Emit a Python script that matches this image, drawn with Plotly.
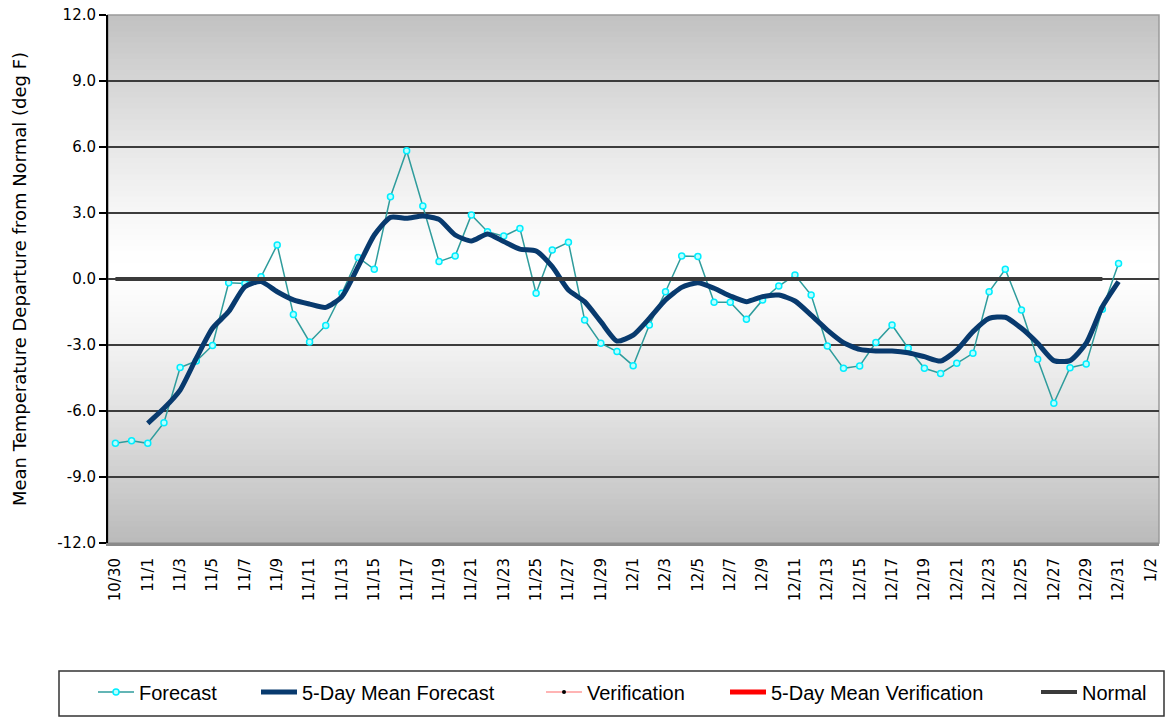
import pandas as pd
import plotly.graph_objects as go

# ---------------- data ----------------
start_date = "2007-10-30"
forecast = [-7.47, -7.35, -7.47, -6.53, -4.02, -3.73, -3.02, -0.17, -0.20, 0.10,
            1.55, -1.61, -2.86, -2.11, -0.65, 0.98, 0.44, 3.74, 5.83, 3.32,
            0.79, 1.05, 2.91, 2.15, 1.95, 2.30, -0.65, 1.32, 1.67, -1.86,
            -2.92, -3.30, -3.94, -2.09, -0.58, 1.05, 1.02, -1.06, -1.06, -1.83,
            -0.95, -0.32, 0.18, -0.73, -3.05, -4.06, -3.95, -2.89, -2.09, -3.15,
            -4.06, -4.29, -3.83, -3.38, -0.58, 0.44, -1.41, -3.65, -5.65, -4.03,
            -3.86, -1.38, 0.71]
mean_start = "2007-11-01"
mean_forecast = [-6.56, -5.88, -5.05, -3.60, -2.24, -1.48, -0.35, -0.12, -0.58, -0.95,
                 -1.14, -1.29, -0.80, 0.56, 2.00, 2.80, 2.76, 2.86, 2.71, 2.00,
                 1.73, 2.05, 1.70, 1.36, 1.27, 0.56, -0.50, -1.03, -1.94, -2.82,
                 -2.55, -1.79, -0.95, -0.38, -0.17, -0.42, -0.77, -1.03, -0.80, -0.73,
                 -1.00, -1.64, -2.32, -2.89, -3.20, -3.27, -3.27, -3.35, -3.53, -3.73,
                 -3.23, -2.39, -1.79, -1.74, -2.24, -2.92, -3.71, -3.71, -2.92, -1.26,
                 -0.12]
# no verification data yet (legend entries only)
verification_dates = [None]
verification = [None]
mean_verification_dates = [None]
mean_verification = [None]
normal_dates = ["2007-10-30", "2007-12-30"]
normal = [0.0, 0.0]
y_ticks = [-12, -9, -6, -3, 0, 3, 6, 9, 12]
y_tick_labels = ["-12.0", "-9.0", "-6.0", "-3.0", "0.0", "3.0", "6.0", "9.0", "12.0"]

dates = pd.date_range(start_date, periods=len(forecast), freq="D")
mean_dates = pd.date_range(mean_start, periods=len(mean_forecast), freq="D")

FONT = "DejaVu Sans"
LFONT = "Liberation Sans"

W, H = 1167, 719
ML, MR, MT, MB = 108, 8, 15, 176
PW = W - ML - MR
PH = H - MT - MB


def px_x(p):
    return (p - ML) / PW


def px_y(p):
    return (H - MB - p) / PH


fig = go.Figure()
fig.add_trace(go.Scatter(
    x=dates, y=forecast, name="Forecast", mode="lines+markers", legend="legend",
    line=dict(color="#2f9c9c", width=1.5),
    marker=dict(symbol="circle", size=6, color="#b8ffff",
                line=dict(color="#00eeff", width=1.5))))
fig.add_trace(go.Scatter(
    x=mean_dates, y=mean_forecast, name="5-Day Mean Forecast", mode="lines",
    legend="legend2",
    line=dict(color="#083a6e", width=5, shape="spline", smoothing=0.6)))
fig.add_trace(go.Scatter(
    x=verification_dates, y=verification, name="Verification", mode="lines+markers",
    legend="legend3",
    line=dict(color="#ffb4b4", width=2),
    marker=dict(symbol="circle", size=4, color="#000000")))
fig.add_trace(go.Scatter(
    x=mean_verification_dates, y=mean_verification, name="5-Day Mean Verification",
    mode="lines", legend="legend4", line=dict(color="#ff0000", width=5)))
fig.add_trace(go.Scatter(
    x=normal_dates, y=normal, name="Normal", mode="lines", legend="legend5",
    line=dict(color="#3a3a3a", width=4)))

# vertical gradient background (grey -> white -> grey)
shapes = []
nb = 96
lo, hi = -12.0, 12.0
centre = 0.5
step = (hi - lo) / nb
for i in range(nb):
    y0 = lo + step * i
    y1 = min(y0 + step * 1.6, hi)
    ym = y0 + step / 2
    t = min(abs(ym - centre) / 12.5, 1.0)
    v = int(round(255 - (255 - 186) * t ** 1.3))
    shapes.append(dict(type="rect", xref="paper", yref="y", x0=0, x1=1, y0=y0, y1=y1,
                       fillcolor=f"rgb({v},{v},{v})", line=dict(width=0), layer="below"))
shapes.append(dict(type="rect", xref="paper", yref="paper", x0=0, x1=1, y0=0, y1=1,
                   line=dict(color="#9a9a9a", width=1.5), fillcolor="rgba(0,0,0,0)",
                   layer="below"))
# legend frame
shapes.append(dict(type="rect", xref="paper", yref="paper",
                   x0=px_x(59), x1=px_x(1164), y0=px_y(716), y1=px_y(671),
                   line=dict(color="#333333", width=1.5), fillcolor="white",
                   layer="above"))

legend_symbol_x = [99, 262, 547, 731, 1042]
legend_common = dict(orientation="h", yanchor="middle", xanchor="left",
                     y=px_y(692), bgcolor="rgba(0,0,0,0)", borderwidth=0,
                     font=dict(family=LFONT, size=20), itemwidth=36)
legends = {}
for i, sx in enumerate(legend_symbol_x):
    key = "legend" if i == 0 else f"legend{i + 1}"
    legends[key] = dict(legend_common, x=px_x(sx - 6))

fig.update_layout(
    width=W, height=H,
    margin=dict(l=ML, r=MR, t=MT, b=MB, autoexpand=False),
    paper_bgcolor="white", plot_bgcolor="white",
    font=dict(family=FONT, size=14, color="black"),
    shapes=shapes,
    showlegend=True,
    xaxis=dict(
        type="date", automargin=False,
        range=["2007-10-29 13:00", "2008-01-02 12:00"],
        tick0="2007-10-30", dtick=2 * 86400000,
        tickformat="%-m/%-d", tickangle=-90,
        ticks="", ticklabelstandoff=6,
        tickfont=dict(family=FONT, size=15),
        showgrid=False, zeroline=False,
        showline=True, linecolor="#8a8a8a", linewidth=3,
    ),
    yaxis=dict(
        range=[-12, 12], tickvals=y_ticks, ticktext=y_tick_labels,
        automargin=False,
        ticks="outside", ticklen=7, tickwidth=2, tickcolor="black",
        tickfont=dict(family=FONT, size=15),
        showgrid=True, gridcolor="#3c3c3c", gridwidth=2,
        zeroline=False,
        showline=True, linecolor="black", linewidth=2,
        title=dict(text="Mean Temperature Departure from Normal (deg F)",
                   font=dict(family=FONT, size=18), standoff=26),
    ),
    **legends,
)

fig.write_html("out.html", config={"displayModeBar": False},
               post_script="document.body.style.margin='0';")
